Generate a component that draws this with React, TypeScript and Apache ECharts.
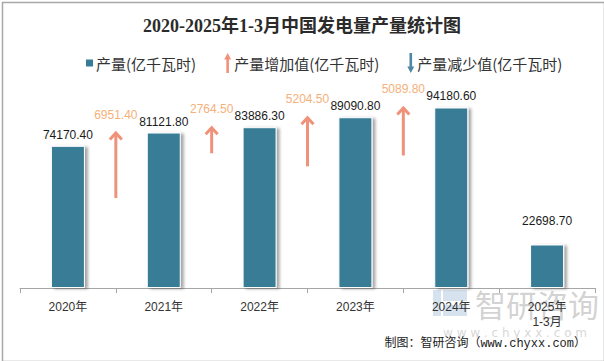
import React, { useEffect, useRef } from "react";
import * as echarts from "echarts";

const categories = ["2020年", "2021年", "2022年", "2023年", "2024年", "2025年\n1-3月"];
const production = [74170.4, 81121.8, 83886.3, 89090.8, 94180.6, 22698.7];
const increaseValues = [6951.4, 2764.5, 5204.5, 5089.8];
const decreaseValues: number[] = [];

const BAR_COLOR = "#377C96";
const UP_COLOR = "#F0927A";
const UP_LABEL_COLOR = "#F4B07A";
const DOWN_COLOR = "#4F88A4";
const ARROW_SCALE = 4.92;

const upIcon = "path://M3.5,0 L7,6.5 L4.8,6.5 L4.8,20 L2.2,20 L2.2,6.5 L0,6.5 Z";
const downIcon = "path://M2.2,0 L4.8,0 L4.8,13.5 L7,13.5 L3.5,20 L0,13.5 L2.2,13.5 Z";
const squareIcon = "path://M0,0 L10,0 L10,10 L0,10 Z";

function arrowRenderer(color: string, labelColor: string, up: boolean) {
  return (params: any, api: any) => {
    const i = api.value(0);
    const top = api.value(1);
    const diff = api.value(2);
    const bandW = api.size([1, 0])[0];
    const p = api.coord([i, top]);
    const x = p[0] + bandW / 2;
    const len = api.size([0, diff * ARROW_SCALE])[1];
    const yTop = p[1];
    const yBot = yTop + len;
    const tip = up ? yTop : yBot;
    const dir = up ? 1 : -1;
    return {
      type: "group",
      children: [
        {
          type: "line",
          shape: { x1: x, y1: up ? yBot : yTop, x2: x, y2: tip + dir * 1 },
          style: { stroke: color, lineWidth: 3 },
        },
        {
          type: "polyline",
          shape: { points: [[x - 6, tip + dir * 7], [x, tip + dir * 0.5], [x + 6, tip + dir * 7]] },
          style: { stroke: color, lineWidth: 3, fill: "none" },
        },
        {
          type: "text",
          x: x,
          y: yTop - 18,
          style: {
            text: diff.toFixed(2),
            fill: labelColor,
            fontSize: 12,
            fontFamily: "Liberation Sans, Arial, sans-serif",
            align: "center",
            verticalAlign: "middle",
          },
        },
      ],
    };
  };
}

export default function App() {
  const ref = useRef<HTMLDivElement>(null);

  useEffect(() => {
    if (!ref.current) return;
    const chart = echarts.init(ref.current, undefined, { renderer: "svg" });

    const barData = production.map((v, i) => {
      const item: any = { value: v };
      if (i === production.length - 1) {
        item.label = { distance: 17 };
      }
      return item;
    });

    const upData = increaseValues.map((d, i) => [i, production[i + 1], d]);
    const downData = decreaseValues.map((d, i) => [i, production[i], d]);

    chart.setOption({
      animation: false,
      backgroundColor: "#ffffff",
      title: {
        text: "2020-2025年1-3月中国发电量产量统计图",
        left: "center",
        top: 12,
        textStyle: {
          fontSize: 18,
          fontWeight: "bold",
          fontFamily: "Liberation Serif, DejaVu Serif, Noto Sans CJK SC, serif",
          color: "#2b2b2b",
        },
      },
      legend: {
        top: 48,
        left: 81,
        itemGap: 28,
        itemWidth: 7,
        itemHeight: 21,
        itemStyle: { borderWidth: 0 },
        textStyle: {
          fontSize: 15,
          color: "#333",
          fontFamily: "Noto Sans CJK SC, sans-serif",
          padding: [0, 0, 0, -2],
        },
        data: [
          { name: "产量(亿千瓦时)", icon: squareIcon, itemStyle: { color: BAR_COLOR } },
          { name: "产量增加值(亿千瓦时)", icon: upIcon, itemStyle: { color: UP_COLOR } },
          { name: "产量减少值(亿千瓦时)", icon: downIcon, itemStyle: { color: DOWN_COLOR } },
        ],
      },
      grid: { left: 20, right: 9, top: 58, bottom: 73 },
      xAxis: {
        type: "category",
        data: categories,
        axisLine: { lineStyle: { color: "#A6A6A6", width: 1 } },
        axisTick: { show: true, length: 5, lineStyle: { color: "#A6A6A6" } },
        axisLabel: {
          color: "#333",
          fontSize: 12,
          margin: 11,
          lineHeight: 15,
          fontFamily: "Liberation Sans, Noto Sans CJK SC, sans-serif",
        },
      },
      yAxis: {
        type: "value",
        min: 0,
        max: 120000,
        show: false,
        splitLine: { show: false },
      },
      series: [
        {
          name: "产量(亿千瓦时)",
          type: "bar",
          data: barData,
          barWidth: 34,
          itemStyle: {
            color: BAR_COLOR,
            borderColor: "#ffffff",
            borderWidth: 1,
            shadowColor: "rgba(0,0,0,0.35)",
            shadowBlur: 3,
            shadowOffsetX: 3,
            shadowOffsetY: 1,
          },
          label: {
            show: true,
            position: "top",
            distance: 5,
            formatter: (p: any) => p.value.toFixed(2),
            color: "#1a1a1a",
            fontSize: 12,
            fontFamily: "Liberation Sans, Arial, sans-serif",
          },
          z: 2,
        },
        {
          name: "产量增加值(亿千瓦时)",
          type: "custom",
          data: upData,
          renderItem: arrowRenderer(UP_COLOR, UP_LABEL_COLOR, true),
          itemStyle: { color: UP_COLOR },
          z: 3,
        },
        {
          name: "产量减少值(亿千瓦时)",
          type: "custom",
          data: downData,
          renderItem: arrowRenderer(DOWN_COLOR, DOWN_COLOR, false),
          itemStyle: { color: DOWN_COLOR },
          z: 3,
        },
      ],
      graphic: [
        {
          type: "rect",
          left: 0,
          top: 0,
          shape: { x: 0.5, y: 0.5, width: 602, height: 359 },
          style: { fill: "none", stroke: "#A8A8A8", lineWidth: 1.5 },
          silent: true,
          z: 100,
        },
        {
          type: "group",
          silent: true,
          z: 0,
          children: [
            {
              type: "rect",
              shape: { x: 433, y: 290, width: 8, height: 26 },
              style: { fill: "rgba(120,160,200,0.3)" },
            },
            {
              type: "rect",
              shape: { x: 443, y: 290, width: 24, height: 11 },
              style: { fill: "rgba(120,160,200,0.3)" },
            },
            {
              type: "rect",
              shape: { x: 443, y: 305, width: 24, height: 11 },
              style: { fill: "rgba(120,160,200,0.3)" },
            },
            {
              type: "text",
              x: 475,
              y: 303,
              style: {
                text: "智研咨询",
                fill: "rgba(140,140,140,0.4)",
                fontSize: 31,
                fontFamily: "Noto Sans CJK SC, sans-serif",
                align: "left",
                verticalAlign: "middle",
              },
            },
            {
              type: "text",
              x: 515,
              y: 333,
              style: {
                text: "w w w . c h y x x . c o m",
                fill: "rgba(150,150,150,0.4)",
                fontSize: 12,
                fontFamily: "DejaVu Sans, sans-serif",
                align: "center",
                verticalAlign: "middle",
              },
            },
          ],
        },
        {
          type: "text",
          right: 18,
          top: 338,
          style: {
            text: "制图：智研咨询（www.chyxx.com）",
            fill: "#222",
            fontSize: 12,
            fontFamily: "Liberation Mono, Noto Sans CJK SC, monospace",
          },
          z: 50,
        },
      ],
    });

    return () => chart.dispose();
  }, []);

  return (
    <div
      ref={ref}
      style={{ position: "absolute", left: 0, top: 0, width: 604, height: 361 }}
    />
  );
}
